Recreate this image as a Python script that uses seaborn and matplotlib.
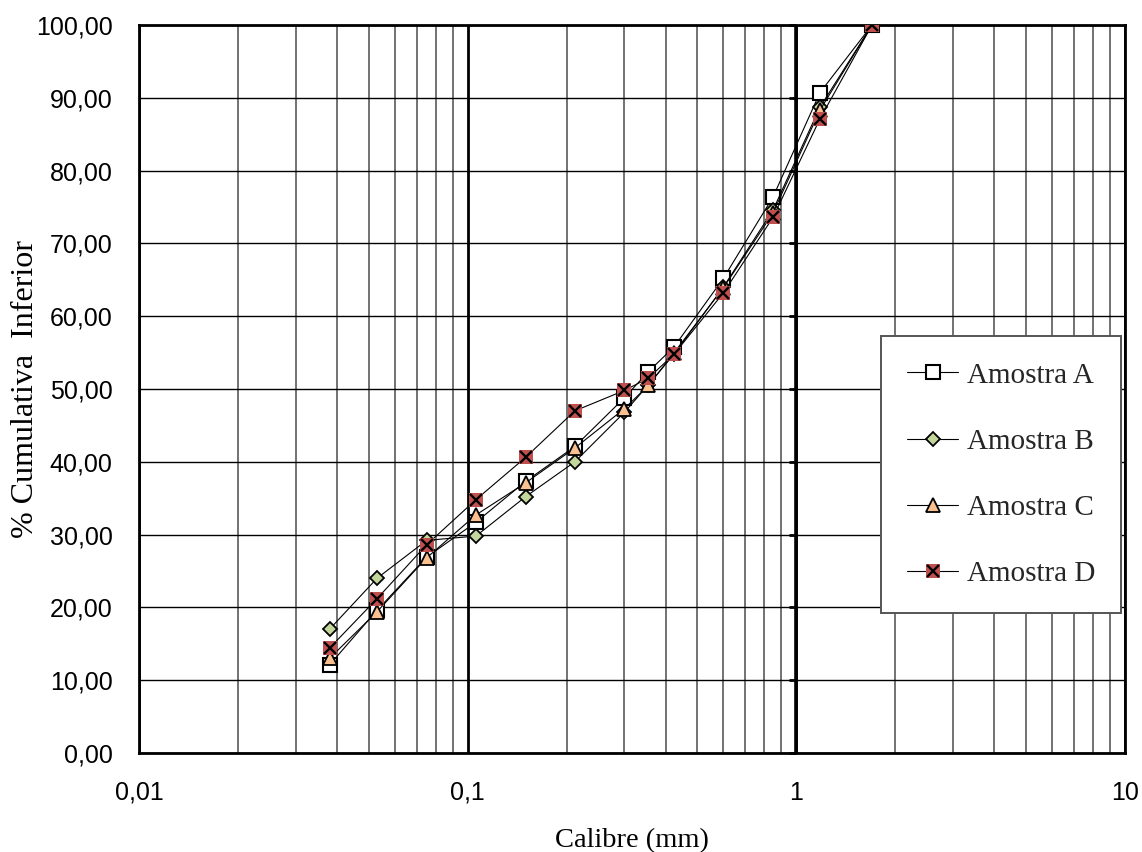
import matplotlib
matplotlib.use("Agg")
import matplotlib.pyplot as plt
from matplotlib.lines import Line2D, TICKLEFT
from matplotlib.legend_handler import HandlerTuple
from matplotlib.ticker import FixedLocator, LogLocator, FuncFormatter, NullFormatter
import seaborn as sns
import numpy as np
import pandas as pd

# sieve sizes (mm) and cumulative % passing for each sample
calibre = [0.038, 0.053, 0.075, 0.106, 0.150, 0.212, 0.300, 0.355, 0.425, 0.600, 0.850, 1.18, 1.70]
amostra_a = [12.1, 19.6, 26.9, 31.7, 37.3, 42.1, 48.8, 52.4, 55.8, 65.2, 76.4, 90.7, 100.0]
amostra_b = [17.0, 24.0, 29.2, 29.8, 35.2, 40.0, 46.8, 50.6, 54.8, 64.0, 74.6, 88.7, 100.0]
amostra_c = [13.0, 19.4, 26.8, 32.7, 37.1, 41.9, 47.3, 50.5, 55.0, 63.9, 74.2, 88.3, 100.0]
amostra_d = [14.4, 21.2, 28.6, 34.8, 40.6, 47.0, 49.8, 51.5, 54.8, 63.2, 73.6, 87.1, 100.0]

series = ["Amostra A", "Amostra B", "Amostra C", "Amostra D"]
y_ticks = np.arange(0, 101, 10)
x_ticks = [0.01, 0.1, 1, 10]
x_labels = ["0,01", "0,1", "1", "10"]

df = pd.DataFrame({"calibre": calibre, "Amostra A": amostra_a, "Amostra B": amostra_b,
                   "Amostra C": amostra_c, "Amostra D": amostra_d})

sns.set_style("white")
plt.rcParams["font.family"] = ["Liberation Serif", "DejaVu Serif"]

fig = plt.figure(figsize=(11.42, 8.52), dpi=100)
ax = fig.add_axes([0.1217, 0.1162, 0.8634, 0.8545])
ax.set_xscale("log")

# marker styles (A, B, C, D)
sty_a = dict(marker="s", markersize=10, markerfacecolor="white", markeredgecolor="black", markeredgewidth=1.5)
sty_b = dict(marker="D", markersize=7.5, markerfacecolor="#c3d69b", markeredgecolor="black", markeredgewidth=1.3)
sty_c = dict(marker="^", markersize=10, markerfacecolor="#fac090", markeredgecolor="black", markeredgewidth=1.3)
sty_d = dict(marker="s", markersize=9.5, markerfacecolor="#c0504d", markeredgewidth=0)
sty_dx = dict(marker="x", markersize=9, markeredgewidth=1.7, color="black")

sns.lineplot(data=df, x="calibre", y="Amostra A", color="black", linewidth=0.8, ax=ax, zorder=3, **sty_a)
sns.lineplot(data=df, x="calibre", y="Amostra B", color="black", linewidth=0.8, ax=ax, zorder=4, **sty_b)
sns.lineplot(data=df, x="calibre", y="Amostra C", color="black", linewidth=0.8, ax=ax, zorder=5, **sty_c)
sns.lineplot(data=df, x="calibre", y="Amostra D", color="black", linewidth=0.8, ax=ax, zorder=6, **sty_d)
ax.plot(df["calibre"], df["Amostra D"], ls="none", zorder=7, **sty_dx)

ax.set_xlim(0.01, 10)
ax.set_ylim(0, 100)

# grid
ax.set_axisbelow(True)
ax.xaxis.set_major_locator(FixedLocator(x_ticks))
ax.xaxis.set_minor_locator(LogLocator(base=10, subs=np.arange(2, 10)))
ax.xaxis.set_minor_formatter(NullFormatter())
ax.xaxis.set_major_formatter(FuncFormatter(lambda v, p: x_labels[x_ticks.index(v)] if v in x_ticks else ""))
ax.set_yticks(y_ticks)
ax.yaxis.set_major_formatter(FuncFormatter(lambda v, p: f"{v:.2f}".replace(".", ",")))
ax.grid(which="major", axis="x", color="black", linewidth=2.0)
ax.grid(which="minor", axis="x", color="#5a5a5a", linewidth=1.2)
ax.grid(which="major", axis="y", color="black", linewidth=1.0)

# vertical axis crossing at x = 1 with small tick marks
ax.axvline(1, color="black", linewidth=2.6, zorder=1)
ax.plot(np.ones(len(y_ticks)), y_ticks, ls="none", marker=TICKLEFT, markersize=5,
        markeredgewidth=2, color="black", zorder=1, clip_on=False)

for s in ax.spines.values():
    s.set_color("black")
    s.set_linewidth(2)

ax.tick_params(axis="x", which="major", direction="out", length=6, width=2, pad=14,
               labelsize=18, colors="black")
ax.tick_params(axis="x", which="minor", length=0)
ax.tick_params(axis="y", length=0, pad=19, labelsize=18, colors="black")
for lab in ax.get_xticklabels() + ax.get_yticklabels():
    lab.set_fontfamily(["Liberation Sans", "DejaVu Sans"])

ax.set_xlabel("Calibre (mm)", fontsize=20.5, labelpad=17, color="black")
ax.set_ylabel("% Cumulativa  Inferior", fontsize=23, color="black", va="center", ha="center")
ax.yaxis.set_label_coords(-0.1146, 0.5)

# legend
h_a = Line2D([], [], color="black", lw=0.8, **sty_a)
h_b = Line2D([], [], color="black", lw=0.8, **sty_b)
h_c = Line2D([], [], color="black", lw=0.8, **sty_c)
h_d1 = Line2D([], [], color="black", lw=0.8, **sty_d)
h_d2 = Line2D([], [], ls="none", **sty_dx)
leg = ax.legend([h_a, h_b, h_c, (h_d1, h_d2)], series,
                handler_map={tuple: HandlerTuple(ndivide=1)},
                loc="upper left", bbox_to_anchor=(0.7525, 0.2074, 0.2434, 0.3654), mode="expand",
                fontsize=21, frameon=True, fancybox=False, shadow=False,
                handlelength=1.75, handletextpad=0.3, labelspacing=1.36,
                borderpad=0.9, borderaxespad=0)
leg.get_frame().set_edgecolor("#555555")
leg.get_frame().set_linewidth(1.4)
leg.get_frame().set_facecolor("white")
leg.get_frame().set_alpha(1)
leg.set_zorder(10)

fig.savefig("out.png", dpi=100)
